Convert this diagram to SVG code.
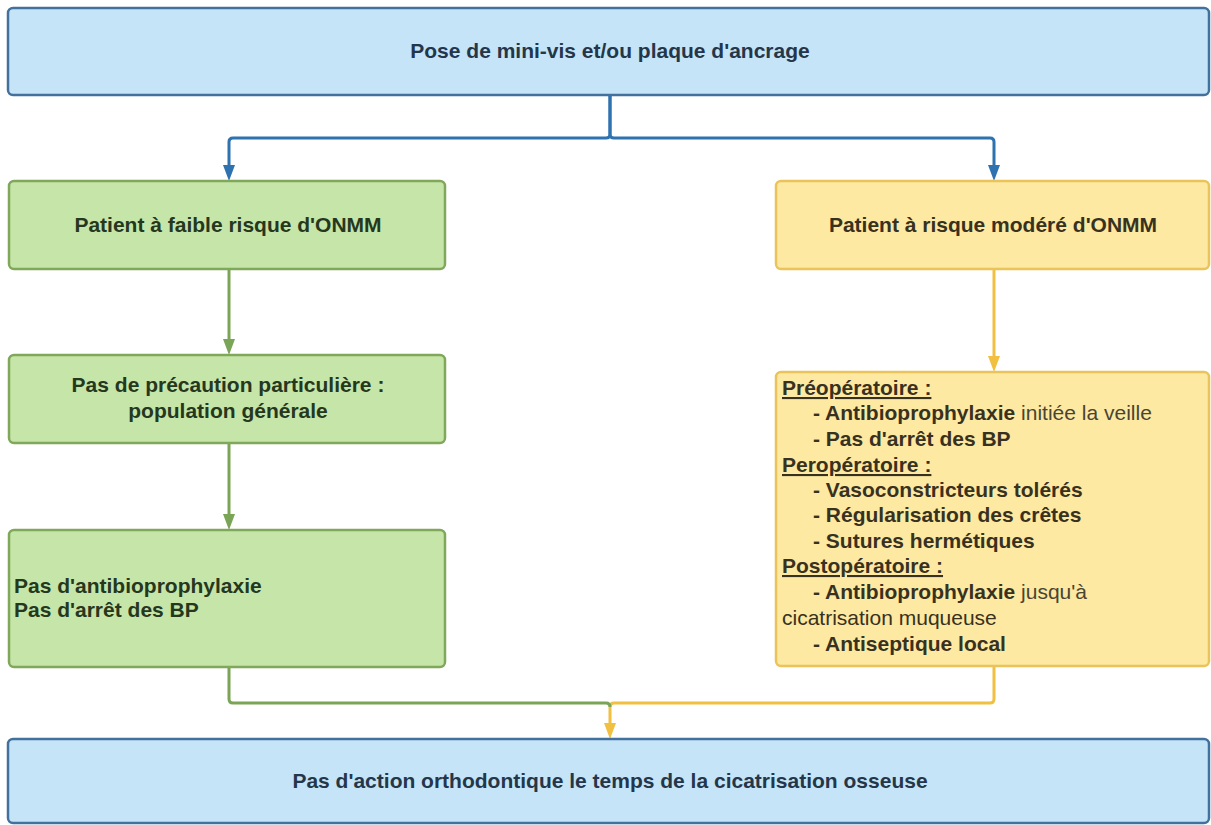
<svg xmlns="http://www.w3.org/2000/svg" width="1211" height="825" viewBox="0 0 1211 825">
<style>
text{font-family:"Liberation Sans",Arial,sans-serif;font-size:21px;font-weight:bold}
.blue rect{fill:#c5e4f7;stroke:#41719c;stroke-width:2.5}
.green rect{fill:#c6e5a9;stroke:#7fa85a;stroke-width:2.5}
.yellow rect{fill:#fde9a2;stroke:#eac45a;stroke-width:2.5}
.blue text{fill:#24364a}
.green text{fill:#25371d}
.yellow text{fill:#383120}
.c{text-anchor:middle}
.reg{font-weight:normal;fill:#4a4434}
.u{text-decoration:underline}
.lb{fill:none;stroke:#2f72b0;stroke-width:3;stroke-linejoin:round}
.lg{fill:none;stroke:#7aa456;stroke-width:3;stroke-linejoin:round}
.ly{fill:none;stroke:#f2c040;stroke-width:3;stroke-linejoin:round}
.hb{fill:#2f72b0}
.hg{fill:#7aa456}
.hy{fill:#f2c040}
</style>
<rect width="1211" height="825" fill="#ffffff"/>
<g id="connectors">
<path class="lb" d="M610,95 V134 Q610,138 606,138 H233 Q229,138 229,142 V166"/>
<path class="hb" d="M223,165 L235,165 L229,181 Z"/>
<path class="lb" d="M610,95 V134 Q610,138 614,138 H990 Q994,138 994,142 V166"/>
<path class="hb" d="M988,165 L1000,165 L994,181 Z"/>
<path class="lg" d="M229,269 V340"/>
<path class="hg" d="M223,339 L235,339 L229,355 Z"/>
<path class="lg" d="M229,443 V515"/>
<path class="hg" d="M223,514 L235,514 L229,530 Z"/>
<path class="ly" d="M994,269 V357"/>
<path class="hy" d="M988,356 L1000,356 L994,372 Z"/>
<path class="ly" d="M994,666 V699 Q994,703 990,703 H614 Q610,703 610,707 V724"/>
<path class="lg" d="M229,667 V699 Q229,703 233,703 H606 Q610,703 610,707"/>
<path class="hy" d="M604,723 L616,723 L610,739 Z"/>
</g>
<g id="n-top" class="blue">
<rect x="8" y="8" width="1201" height="87" rx="5"/>
<text class="c" x="610" y="58">Pose de mini-vis et/ou plaque d'ancrage</text>
</g>
<g id="n-low" class="green">
<rect x="9" y="181" width="436" height="88" rx="5"/>
<text class="c" x="228" y="232">Patient à faible risque d'ONMM</text>
</g>
<g id="n-mod" class="yellow">
<rect x="776" y="181" width="433" height="88" rx="5"/>
<text class="c" x="993" y="232">Patient à risque modéré d'ONMM</text>
</g>
<g id="n-noprec" class="green">
<rect x="9" y="355" width="436" height="88" rx="5"/>
<text class="c" x="228" y="392">Pas de précaution particulière :</text>
<text class="c" x="228" y="418">population générale</text>
</g>
<g id="n-noab" class="green">
<rect x="9" y="530" width="436" height="137" rx="5"/>
<text x="14" y="593">Pas d'antibioprophylaxie</text>
<text x="14" y="617">Pas d'arrêt des BP</text>
</g>
<g id="n-protocol" class="yellow">
<rect x="776" y="372" width="433" height="294" rx="5"/>
<text class="u" x="782" y="395">Préopératoire :</text>
<text x="813" y="420">- Antibioprophylaxie<tspan class="reg"> initiée la veille</tspan></text>
<text x="813" y="446">- Pas d'arrêt des BP</text>
<text class="u" x="782" y="472">Peropératoire :</text>
<text x="813" y="497">- Vasoconstricteurs tolérés</text>
<text x="813" y="522">- Régularisation des crêtes</text>
<text x="813" y="548">- Sutures hermétiques</text>
<text class="u" x="782" y="573">Postopératoire :</text>
<text x="813" y="599">- Antibioprophylaxie<tspan class="reg"> jusqu'à</tspan></text>
<text class="reg" x="782" y="625">cicatrisation muqueuse</text>
<text x="813" y="651">- Antiseptique local</text>
</g>
<g id="n-bottom" class="blue">
<rect x="8" y="739" width="1201" height="84" rx="5"/>
<text class="c" x="610" y="788">Pas d'action orthodontique le temps de la cicatrisation osseuse</text>
</g>
</svg>
